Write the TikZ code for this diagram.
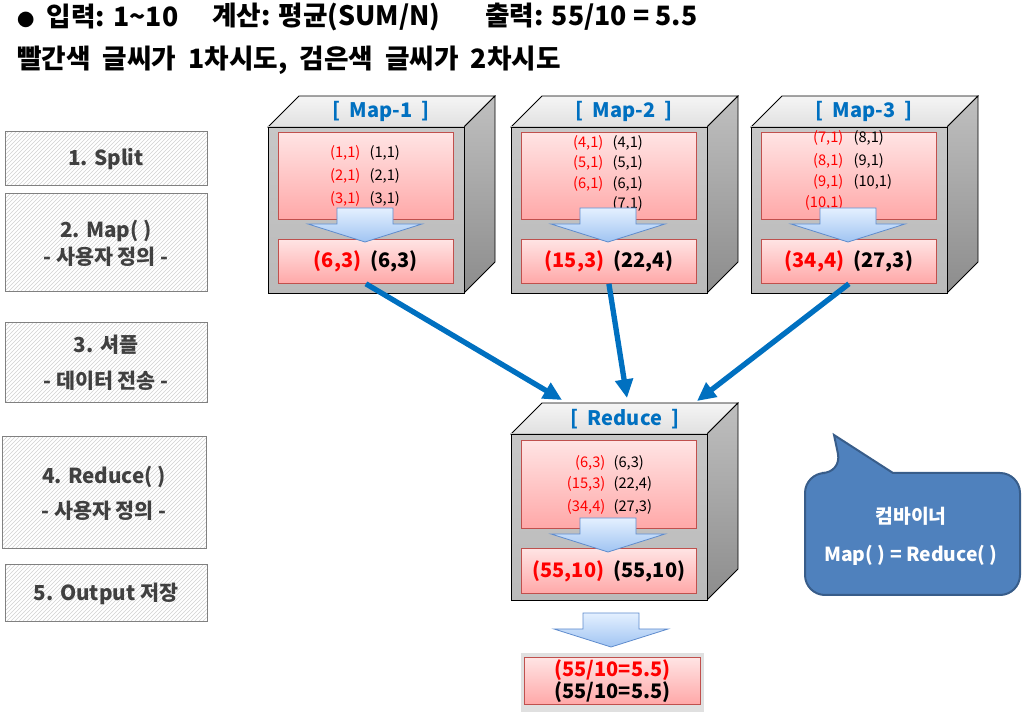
\documentclass[tikz,border=0pt]{standalone}
\usepackage{fontspec}
\setmainfont{Noto Sans CJK KR}
\usetikzlibrary{arrows.meta, patterns}

\definecolor{flowblue}{RGB}{0,112,192}
\definecolor{pinkline}{RGB}{192,80,77}
\definecolor{pinktop}{RGB}{255,228,228}
\definecolor{pinkbot}{RGB}{255,168,168}
\definecolor{arrtop}{RGB}{228,240,255}
\definecolor{arrbot}{RGB}{160,196,242}
\definecolor{arrline}{RGB}{95,140,205}
\definecolor{callfill}{RGB}{79,129,189}
\definecolor{callline}{RGB}{56,93,138}
\definecolor{steptext}{RGB}{64,64,64}

\tikzset{
  stepbox/.style={draw=gray, line width=0.75pt, pattern=north east lines, pattern color=black!18,
    text=steptext, align=center, font=\bfseries\fontsize{15.5}{20}\selectfont},
  cubefront/.style={draw=black, line width=0.6pt, top color=black!22, bottom color=black!27},
  cubetop/.style={draw=black, line width=0.6pt, top color=black!4, bottom color=black!12},
  cubeside/.style={draw=black, line width=0.6pt, top color=black!25, bottom color=black!45},
  cubetitle/.style={text=flowblue, font=\bfseries\fontsize{15}{18}\selectfont},
  pinkbox/.style={draw=pinkline, line width=0.6pt, top color=pinktop, bottom color=pinkbot,
    anchor=north west, inner sep=0pt, minimum width=131.25pt},
  redpair/.style={anchor=east, text=red, inner sep=1pt, font=\fontsize{11}{12}\selectfont},
  blackpair/.style={anchor=west, inner sep=1pt, font=\fontsize{11}{12}\selectfont},
  sumtext/.style={font=\bfseries\fontsize{15}{18}\selectfont},
  blockarrow/.style={draw=arrline, line width=0.6pt, top color=arrtop, bottom color=arrbot},
  flow/.style={draw=flowblue, line width=4pt, -{Triangle[length=14pt,width=13pt]}},
  bubble/.style={fill=callfill, draw=callline, line width=1.5pt},
  titletext/.style={anchor=west, inner sep=0pt, font=\bfseries\fontsize{20}{24}\selectfont}
}

\begin{document}
\begin{tikzpicture}[x=0.75pt, y=-0.75pt]
  \useasboundingbox (0,0) rectangle (1025,712);

  % header
  \node[titletext] (input) at (17,17) {{\fontsize{13}{13}\selectfont ●}\ \ 입력: 1\textasciitilde10};
  \node[titletext] (calc) at (212,17) {계산: 평균(SUM/N)};
  \node[titletext] (output) at (485,17) {출력: 55/10 = 5.5};
  \node[titletext] (legend) at (17,60) {\spaceskip=9pt\relax 빨간색 글씨가 1차시도, 검은색 글씨가 2차시도};

  % steps
  \node[stepbox, minimum width=151.5pt, minimum height=40.5pt] (split) at (106,159) {1. Split};
  \node[stepbox, minimum width=151.5pt, minimum height=73.5pt] (mapstep) at (106,243) {2. Map( )\\- 사용자 정의 -};
  \node[stepbox, minimum width=151.5pt, minimum height=60pt] (shuffle) at (106,363) {3. 셔플\\[7pt]- 데이터 전송 -};
  \node[stepbox, minimum width=153pt, minimum height=84pt] (reducestep) at (104,493) {4. Reduce( )\\[6pt]- 사용자 정의 -};
  \node[stepbox, minimum width=151.5pt, minimum height=42.75pt] (store) at (106,593.5) {5. Output 저장};

  % cubes
  \foreach \cx/\cy in {268/127, 511/127, 751/127, 511/434} {
    \draw[cubetop] (\cx,\cy) -- ++(31,-31) -- ++(196,0) -- ++(-31,31) -- cycle;
    \draw[cubeside] (\cx+196,\cy) -- ++(31,-31) -- ++(0,166) -- ++(-31,31) -- cycle;
    \draw[cubefront] (\cx,\cy) rectangle ++(196,166);
  }

  \begin{scope}[shift={(268,127)}]
    \node[cubetitle] (map1) at (113,-16) {[\hspace{0.45em}Map-1\hspace{0.45em}]};
    \node[pinkbox, minimum height=65.25pt] (map1in) at (10,5) {};
    \foreach \y/\k [count=\i] in {26/1, 49/2, 72/3} {
      \node[redpair] (map1r\i) at (94,\y) {(\k,1)};
      \node[blackpair] (map1b\i) at (100,\y) {(\k,1)};
    }
    \node[pinkbox, minimum height=33pt, sumtext] (map1out) at (10,112) {\textcolor{red}{(6,3)}\ \ (6,3)};
  \end{scope}

  \begin{scope}[shift={(511,127)}]
    \node[cubetitle] (map2) at (113,-16) {[\hspace{0.45em}Map-2\hspace{0.45em}]};
    \node[pinkbox, minimum height=65.25pt] (map2in) at (10,5) {};
    \foreach \y/\k [count=\i] in {16/4, 36/5, 57/6} {
      \node[redpair] (map2r\i) at (94,\y) {(\k,1)};
      \node[blackpair] (map2b\i) at (100,\y) {(\k,1)};
    }
    \node[blackpair] (map2b4) at (100,77) {(7,1)};
    \node[pinkbox, minimum height=33pt, sumtext] (map2out) at (10,112) {\textcolor{red}{(15,3)}\ \ (22,4)};
  \end{scope}

  \begin{scope}[shift={(751,127)}]
    \node[cubetitle] (map3) at (113,-16) {[\hspace{0.45em}Map-3\hspace{0.45em}]};
    \node[pinkbox, minimum height=65.25pt] (map3in) at (10,5) {};
    \foreach \y/\k/\m [count=\i] in {11/7/8, 34/8/9, 55/9/10} {
      \node[redpair] (map3r\i) at (94,\y) {(\k,1)};
      \node[blackpair] (map3b\i) at (101,\y) {(\m,1)};
    }
    \node[redpair] (map3r4) at (94,76) {(10,1)};
    \node[pinkbox, minimum height=33pt, sumtext] (map3out) at (10,112) {\textcolor{red}{(34,4)}\ \ (27,3)};
  \end{scope}

  \begin{scope}[shift={(511,434)}]
    \node[cubetitle] (reduce) at (114,-15) {[\hspace{0.45em}Reduce\hspace{0.45em}]};
    \node[pinkbox, minimum height=66pt] (reducein) at (10,6) {};
    \foreach \y/\a/\b/\c/\d [count=\i] in {29/6/3/6/3, 50/15/3/22/4, 73/34/4/27/3} {
      \node[redpair] (redr\i) at (96,\y) {(\a,\b)};
      \node[blackpair] (redb\i) at (101,\y) {(\c,\d)};
    }
    \node[pinkbox, minimum height=33.75pt, sumtext] (reduceout) at (10,114) {\textcolor{red}{(55,10)}\ \ (55,10)};
  \end{scope}

  % block arrows
  \foreach \ax/\ay in {268/127, 511/127, 751/127, 511/437, 514/532}
    \draw[blockarrow] (\ax+69,\ay+81) -- ++(56,0) -- ++(0,16) -- ++(29,0) -- ++(-57,18) -- ++(-57,-18) -- ++(29,0) -- cycle;

  % shuffle
  \coordinate (rin1) at (562,400);
  \coordinate (rin2) at (627,398);
  \coordinate (rin3) at (697,401);
  \draw[flow] (map1out.south) -- (rin1);
  \draw[flow] (map2out.south) -- (rin2);
  \draw[flow] (map3out.south) -- (rin3);

  % result
  \fill[black!12] (521,653) rectangle (704,712);
  \node[pinkbox, minimum width=132pt, minimum height=35.25pt, align=center,
    font=\bfseries\fontsize{15}{16.5}\selectfont] (result) at (524,657) {\textcolor{red}{(55/10=5.5)}\\(55/10=5.5)};

  % combiner
  \draw[bubble] (842,473) -- (834,435) -- (893,473) [rounded corners=15pt] -- (1020,473) -- (1020,595) -- (805,595) -- (805,473) -- cycle;
  \node[text=white, align=center, font=\bfseries\fontsize{14.5}{28.5}\selectfont] (combiner) at (911,536) {컴바이너\\Map( ) = Reduce( )};
\end{tikzpicture}
\end{document}
